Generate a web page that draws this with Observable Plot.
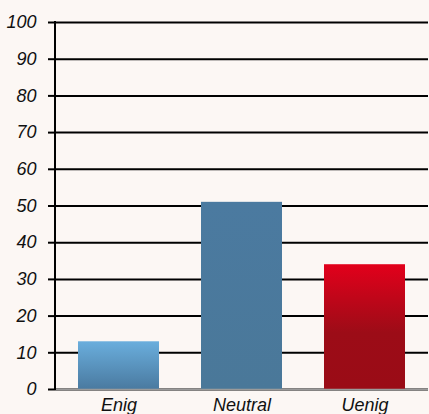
<!DOCTYPE html>
<html><head><meta charset="utf-8">
<script src="https://cdn.jsdelivr.net/npm/d3@7"></script>
<script src="https://cdn.jsdelivr.net/npm/@observablehq/plot@0.6"></script>
<style>
html,body{margin:0;padding:0;background:#fcf7f4;}
#chart{width:429px;height:414px;overflow:hidden;}
svg{font-family:"Liberation Sans Narrow","Liberation Sans",sans-serif;}
</style></head><body><div id="chart"></div>
<script>
const categories = ["Enig", "Neutral", "Uenig"];
const values = [13, 51, 34];
const fills = ["url(#gEnig)", "url(#gNeutral)", "url(#gUenig)"];
const yTicks = [0, 10, 20, 30, 40, 50, 60, 70, 80, 90, 100];

const data = categories.map((c, i) => ({cat: c, v: values[i], fill: fills[i]}));

const plot = Plot.plot({
  width: 429, height: 414,
  marginLeft: 55, marginRight: 1, marginTop: 22, marginBottom: 25,
  style: {background: "transparent", fontStyle: "italic", color: "#111"},
  x: {domain: categories, paddingInner: 0.341, paddingOuter: 0.18, label: null},
  y: {domain: [0, 100], label: null},
  marks: [
    Plot.ruleY(yTicks, {stroke: "#000", strokeWidth: 2}),
    Plot.axisY({ticks: yTicks, tickSize: 7, tickPadding: 12, stroke: "#000", strokeWidth: 2, strokeOpacity: 1, fontSize: 18, fontStyle: "italic", label: null}),
    Plot.barY(data, {x: "cat", y: "v", fill: d => d.fill}),
    Plot.ruleY([0], {stroke: "#9a9a9a", strokeWidth: 1.5}),
    Plot.axisX({tickSize: 0, tickPadding: 9, fontSize: 18, fontStyle: "italic", label: null})
  ]
});
const svg = d3.select(plot);
const defs = svg.insert("defs", ":first-child");
function grad(id, stops) {
  const g = defs.append("linearGradient").attr("id", id).attr("x1", 0).attr("y1", 0).attr("x2", 0).attr("y2", 1);
  stops.forEach(([o, c]) => g.append("stop").attr("offset", o).attr("stop-color", c));
}
grad("gEnig", [[0, "#6aaedd"], [1, "#4a7aa0"]]);
grad("gNeutral", [[0, "#4b7aa0"], [1, "#4a7899"]]);
grad("gUenig", [[0, "#e2001b"], [0.55, "#9c0c17"], [1, "#9a0c16"]]);
// y axis line drawn from the plot's own y scale
const ys = plot.scale("y");
svg.append("line")
  .attr("x1", 55).attr("x2", 55)
  .attr("y1", ys.apply(100) - 1).attr("y2", ys.apply(0) + 1)
  .attr("stroke", "#000").attr("stroke-width", 2);
document.getElementById("chart").appendChild(plot);
</script></body></html>
